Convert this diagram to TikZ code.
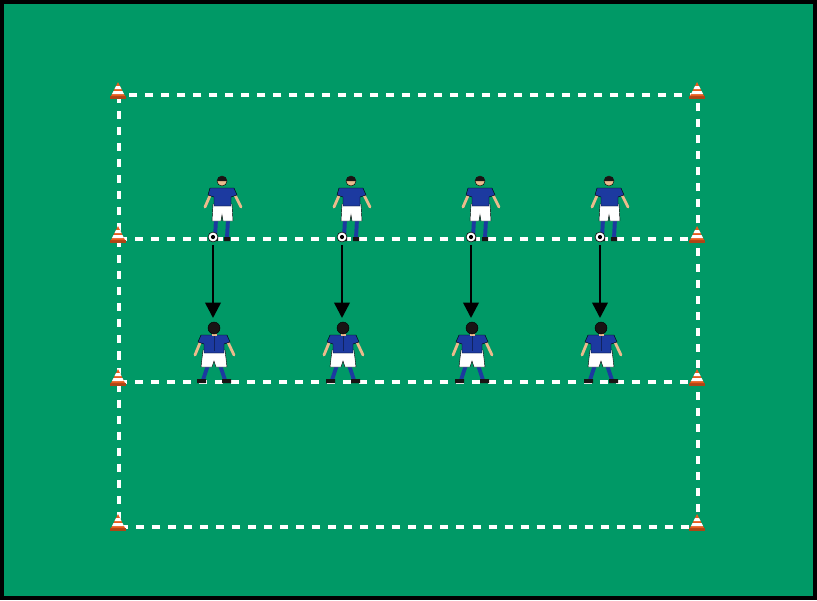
\documentclass[tikz,border=0pt]{standalone}
\usepackage{tikz}
\usetikzlibrary{arrows.meta, positioning}
\definecolor{pitch}{RGB}{0,153,102}
\definecolor{shirt}{RGB}{28,58,160}
\definecolor{skin}{RGB}{236,186,140}
\definecolor{hair}{RGB}{25,20,20}
\definecolor{coneorange}{RGB}{232,92,30}
\tikzset{
  cone/.pic={
    \fill[coneorange!75!black] (-8,-2) rectangle (8,1);
    \fill[coneorange] (-7,-2) -- (0,-16) -- (7,-2) -- cycle;
    \fill[white] (-2,-12) -- (2,-12) -- (3.5,-9) -- (-3.5,-9) -- cycle;
    \fill[white] (-4.5,-7) -- (4.5,-7) -- (6,-4) -- (-6,-4) -- cycle;
  },
  frontplayer/.pic={
    \draw[skin, line width=2pt, line cap=round] (-10,-50) -- (-17,-34);
    \draw[skin, line width=2pt, line cap=round] (11,-50) -- (19,-34);
    \draw[shirt, line width=2.8pt] (-6,-22) -- (-7,-3) (6,-22) -- (5,-3);
    \fill[hair] (-10,-4) rectangle (-4,0) (2,-4) rectangle (8,0);
    \filldraw[fill=white, draw=black, line width=.3pt] (-9,-37) -- (10,-37) -- (11,-20) -- (1,-20) -- (0,-26) -- (-1,-20) -- (-10,-20) -- cycle;
    \filldraw[fill=shirt, draw=black, line width=.3pt] (-12,-53) -- (12,-53) -- (15,-46) -- (9,-44) -- (9,-35) -- (-8,-35) -- (-8,-44) -- (-14,-46) -- cycle;
    \filldraw[fill=skin, draw=black, line width=.3pt] (0,-60) circle (5);
    \fill[hair] (-5,-60) arc (180:360:5) -- cycle;
  },
  backplayer/.pic={
    \draw[skin, line width=2pt, line cap=round] (-12,-45) -- (-19,-28);
    \draw[skin, line width=2pt, line cap=round] (12,-45) -- (20,-28);
    \draw[shirt, line width=2.8pt] (-6,-18) -- (-11,-3) (6,-18) -- (11,-3);
    \fill[hair] (-17,-4) rectangle (-8,0) (8,-4) rectangle (17,0);
    \filldraw[fill=white, draw=black, line width=.3pt] (-11,-33) -- (11,-33) -- (13,-16) -- (2,-16) -- (0,-22) -- (-2,-16) -- (-13,-16) -- cycle;
    \filldraw[fill=shirt, draw=black, line width=.3pt] (-13,-48) -- (13,-48) -- (16,-41) -- (10,-39) -- (10,-30) -- (-10,-30) -- (-10,-39) -- (-16,-41) -- cycle;
    \draw[shirt!60!black, line width=.6pt] (0,-47) -- (0,-32);
    \fill[skin] (-2.5,-50) rectangle (2.5,-47);
    \filldraw[fill=hair, draw=black, line width=.3pt] (0,-55) circle (6);
  }
}

\begin{document}
\begin{tikzpicture}[x=0.025cm, y=-0.025cm]
  \useasboundingbox (0,0) rectangle (817,600);
  \fill[black] (0,0) rectangle (817,600);
  \fill[pitch] (4,4) rectangle (813,596);
  \draw[white, line width=2.4pt, dash pattern=on 5.7pt off 5.7pt]
    (119,95) rectangle (698,527) (119,239) -- (698,239) (119,382) -- (698,382);
  \foreach \y in {95,239,382,527} {
    \pic at (118,\y+3) {cone};
    \pic at (697,\y+3) {cone};
  }
  \foreach \i in {0,...,3} {
    \pic at (222+129*\i,241) {frontplayer};
    \pic at (214+129*\i,383) {backplayer};
    \node[circle, fill=white, draw=black, line width=.4pt, minimum size=7pt, inner sep=0pt,
      path picture={\fill[black] (path picture bounding box.center) circle (1.5pt);}]
      (ball\i) at (213+129*\i,237) {};
    \coordinate (tip\i) at (213+129*\i,318);
    \draw[line width=1.8pt, -{Triangle[length=11pt, width=11pt]}] (ball\i.south) ++(0,3) -- (tip\i);
  }
\end{tikzpicture}
\end{document}
